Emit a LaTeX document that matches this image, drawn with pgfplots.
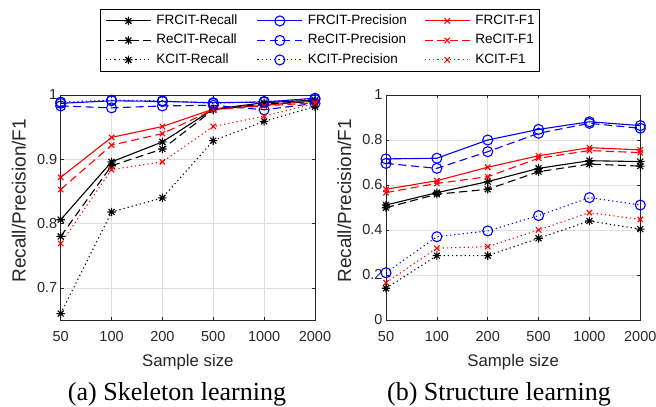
\documentclass[border=0pt]{standalone}
\usepackage{pgfplots}
\pgfplotsset{compat=1.18}
\usepackage{fontspec}
\setmainfont{Liberation Sans}
\newfontfamily\capfont{Liberation Serif}
\definecolor{axgray}{gray}{0.15}
\definecolor{gridgray}{gray}{0.87}
\pgfdeclareplotmark{mstar}{%
 \pgfpathmoveto{\pgfqpoint{0pt}{\pgfplotmarksize}}\pgfpathlineto{\pgfqpoint{0pt}{-\pgfplotmarksize}}%
 \pgfpathmoveto{\pgfqpoint{\pgfplotmarksize}{0pt}}\pgfpathlineto{\pgfqpoint{-\pgfplotmarksize}{0pt}}%
 \pgfpathmoveto{\pgfqpoint{.707\pgfplotmarksize}{.707\pgfplotmarksize}}\pgfpathlineto{\pgfqpoint{-.707\pgfplotmarksize}{-.707\pgfplotmarksize}}%
 \pgfpathmoveto{\pgfqpoint{-.707\pgfplotmarksize}{.707\pgfplotmarksize}}\pgfpathlineto{\pgfqpoint{.707\pgfplotmarksize}{-.707\pgfplotmarksize}}%
 \pgfusepathqstroke}
\pgfplotsset{
 mystyle/.style={
  scale only axis, width=254.3bp, height=225bp,
  xmin=0, xmax=5, xtick={0,...,5}, xticklabels={50,100,200,500,1000,2000},
  axis line style={axgray, line width=0.6bp},
  tick style={axgray, line width=0.6bp},
  tick align=inside, major tick length=3bp,
  grid=major, major grid style={gridgray, line width=0.6bp},
  tick label style={font=\fontsize{14.5bp}{17bp}\selectfont, text=axgray},
  /pgf/number format/assume math mode=true,
  xticklabel style={yshift=-8bp},
  label style={font=\fontsize{16.8bp}{20bp}\selectfont, text=axgray},
  xlabel={Sample size},
  xlabel style={at={(axis description cs:0.5,0)}, anchor=base, yshift=-46bp},
  ylabel={Recall/Precision/F1},
  ylabel style={at={(axis description cs:0,0.53)}, anchor=base, yshift=35bp, font=\fontsize{19bp}{22bp}\selectfont},
  clip=false,
  every axis plot/.append style={line width=1.1bp},
  legend image code/.code={\draw[mark repeat=2,mark phase=2,##1] plot coordinates {(0bp,0bp) (22.5bp,0bp) (45bp,0bp)};},
 },
 rec/.style={black, mark=mstar, mark size=4.2bp, mark options={solid}},
 prec/.style={blue, mark=o, mark size=5bp, mark options={solid}},
 fone/.style={red, mark=x, mark size=3.8bp, mark options={solid}},
 dsh/.style={dash pattern=on 8bp off 4.5bp},
 dtt/.style={dash pattern=on 1.2bp off 3bp},
}
\begin{document}
\begin{tikzpicture}
\useasboundingbox (0,0) rectangle (656bp,407bp);
\begin{axis}[mystyle, at={(60.7bp,87bp)}, anchor=south west,
  ymin=0.65, ymax=1, ytick={0.7,0.8,0.9,1}, yticklabels={0.7,0.8,0.9,1},
  legend columns=3,
  legend style={at={(axis description cs:0.1545,1.382)}, anchor=north west,
    draw=black, line width=0.8bp, fill=white,
    font=\fontsize{13.5bp}{16bp}\selectfont,
    inner xsep=5bp, inner ysep=4.75bp, row sep=6bp, column sep=0bp,
    nodes={inner sep=0pt, text height=10bp, text depth=3.5bp},
    /tikz/every odd column/.style={column sep=5bp},
    /tikz/column 2/.style={column sep=19.3bp},
    /tikz/column 4/.style={column sep=17.3bp}},
  legend cell align=left]
\addplot[rec] coordinates {(0,0.806) (1,0.896) (2,0.927) (3,0.978) (4,0.988) (5,0.992)};
\addlegendentry{FRCIT-Recall}
\addplot[prec] coordinates {(0,0.987) (1,0.991) (2,0.990) (3,0.988) (4,0.989) (5,0.995)};
\addlegendentry{FRCIT-Precision}
\addplot[fone] coordinates {(0,0.872) (1,0.934) (2,0.951) (3,0.978) (4,0.984) (5,0.991)};
\addlegendentry{FRCIT-F1}
\addplot[rec,dsh] coordinates {(0,0.780) (1,0.890) (2,0.916) (3,0.977) (4,0.986) (5,0.990)};
\addlegendentry{ReCIT-Recall}
\addplot[prec,dsh] coordinates {(0,0.983) (1,0.980) (2,0.983) (3,0.984) (4,0.977) (5,0.987)};
\addlegendentry{ReCIT-Precision}
\addplot[fone,dsh] coordinates {(0,0.853) (1,0.922) (2,0.940) (3,0.977) (4,0.983) (5,0.988)};
\addlegendentry{ReCIT-F1}
\addplot[rec,dtt] coordinates {(0,0.660) (1,0.818) (2,0.840) (3,0.929) (4,0.959) (5,0.982)};
\addlegendentry{KCIT-Recall}
\addplot[prec,dtt] coordinates {(0,0.989) (1,0.992) (2,0.991) (3,0.987) (4,0.990) (5,0.993)};
\addlegendentry{KCIT-Precision}
\addplot[fone,dtt] coordinates {(0,0.769) (1,0.884) (2,0.896) (3,0.951) (4,0.967) (5,0.987)};
\addlegendentry{KCIT-F1}
\end{axis}
\begin{axis}[mystyle, at={(386bp,87bp)}, anchor=south west,
  ymin=0, ymax=1, ytick={0,0.2,0.4,0.6,0.8,1}, yticklabels={0,0.2,0.4,0.6,0.8,1}]
\addplot[rec] coordinates {(0,0.511) (1,0.566) (2,0.615) (3,0.674) (4,0.708) (5,0.704)};
\addplot[prec] coordinates {(0,0.716) (1,0.719) (2,0.800) (3,0.847) (4,0.881) (5,0.864)};
\addplot[fone] coordinates {(0,0.581) (1,0.619) (2,0.679) (3,0.730) (4,0.766) (5,0.756)};
\addplot[rec,dsh] coordinates {(0,0.499) (1,0.559) (2,0.581) (3,0.659) (4,0.693) (5,0.684)};
\addplot[prec,dsh] coordinates {(0,0.696) (1,0.674) (2,0.748) (3,0.830) (4,0.874) (5,0.852)};
\addplot[fone,dsh] coordinates {(0,0.566) (1,0.607) (2,0.637) (3,0.719) (4,0.753) (5,0.744)};
\addplot[rec,dtt] coordinates {(0,0.141) (1,0.286) (2,0.286) (3,0.363) (4,0.440) (5,0.404)};
\addplot[prec,dtt] coordinates {(0,0.210) (1,0.370) (2,0.396) (3,0.464) (4,0.544) (5,0.511)};
\addplot[fone,dtt] coordinates {(0,0.166) (1,0.319) (2,0.326) (3,0.400) (4,0.477) (5,0.447)};
\end{axis}
\node[font=\capfont\fontsize{26bp}{30bp}\selectfont, anchor=base] at (177bp,7bp) {(a) Skeleton learning};
\node[font=\capfont\fontsize{26bp}{30bp}\selectfont, anchor=base] at (499bp,7bp) {(b) Structure learning};
\end{tikzpicture}
\end{document}
